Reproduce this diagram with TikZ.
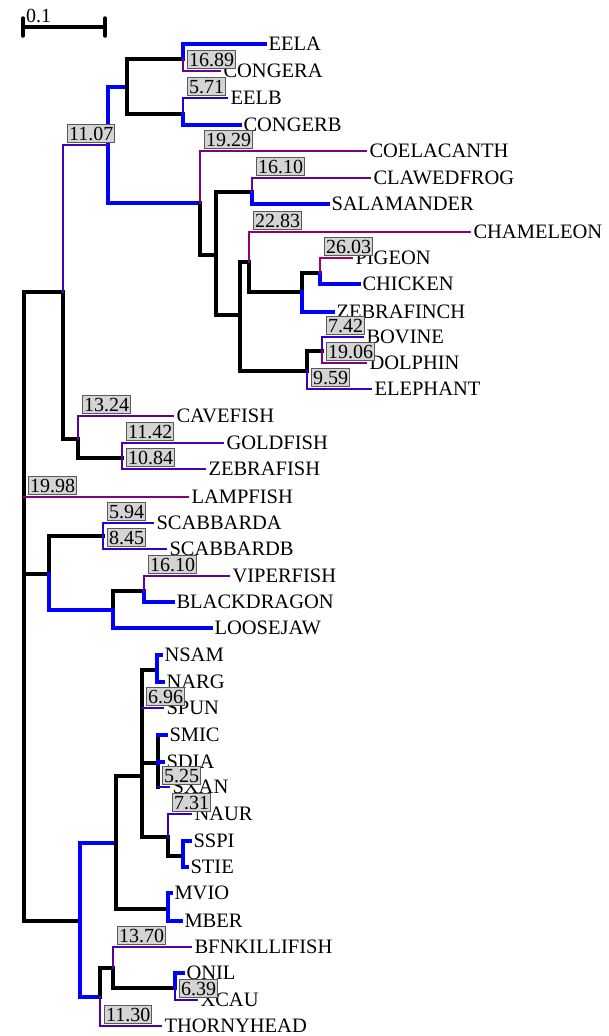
\documentclass[tikz,border=0pt]{standalone}
\usepackage{fontspec}
\setmainfont{Liberation Serif}
\tikzset{
  leaf/.style={anchor=west, inner xsep=3.5pt, inner ysep=0pt, outer sep=0pt, font=\fontsize{20.5}{24}\selectfont},
  bb/.style={draw=blue},
  lab/.style={line width=2.2pt, draw=red!#1!blue},
  val/.style={pos=0.5, anchor=south west, xshift=4.5pt, yshift=2.5pt, fill=black!17, draw=black!65,
    line width=0.8pt, inner xsep=1.5pt, inner ysep=2.2pt, outer sep=0pt, font=\fontsize{20}{20}\selectfont},
}
\begin{document}
\begin{tikzpicture}[x=1pt,y=-1pt]
  \useasboundingbox (0,0) rectangle (608,1036);
  % scale bar
  \coordinate (s0) at (23,27);
  \coordinate (s1) at (105,27);
  \draw[line width=3.5pt] (s0) -- (s1);
  \draw[line width=3.5pt, line cap=round] (s0) ++(0,-9) -- ++(0,18);
  \draw[line width=3.5pt, line cap=round] (s1) ++(0,-9) -- ++(0,18);
  \node[anchor=base west, inner sep=0pt, font=\fontsize{20}{24}\selectfont] (sl) at (26,23) {0.1};

  % inner nodes
  \coordinate (r) at (24,497);
  \coordinate (u) at (63,292);
  \coordinate (a) at (108,145);
  \coordinate (e) at (127,87);
  \coordinate (e1) at (183,59);
  \coordinate (e2) at (183,114);
  \coordinate (t) at (200,203);
  \coordinate (t2) at (216,255);
  \coordinate (t3) at (252,192);
  \coordinate (t4) at (240,315);
  \coordinate (t5) at (249,262);
  \coordinate (t6) at (307,371);
  \coordinate (t7) at (302,292);
  \coordinate (t8) at (320,273);
  \coordinate (t9) at (322,351);
  \coordinate (c1) at (78,439);
  \coordinate (c2) at (122,458);
  \coordinate (m) at (49,574);
  \coordinate (m1) at (103,536);
  \coordinate (m2) at (113,610);
  \coordinate (m3) at (144,591);
  \coordinate (b) at (80,921);
  \coordinate (b1) at (116,843);
  \coordinate (b2) at (100,997);
  \coordinate (b3) at (113,968);
  \coordinate (b4) at (175,988);
  \coordinate (k) at (142,776);
  \coordinate (ks) at (142,708);
  \coordinate (k1) at (157,670);
  \coordinate (k2) at (158,763);
  \coordinate (k2t) at (158,735);
  \coordinate (k2b) at (158,787);
  \coordinate (k3) at (168,837);
  \coordinate (k4) at (168,909);
  \coordinate (k5) at (183,856);

  % leaves
  \begin{scope}[every node/.style={leaf}]
    \node (eela) at (265,44) {EELA};
    \node (congera) at (220,71) {CONGERA};
    \node (eelb) at (227,98) {EELB};
    \node (congerb) at (240,125) {CONGERB};
    \node (coel) at (366,151) {COELACANTH};
    \node (frog) at (370,178) {CLAWEDFROG};
    \node (sala) at (328,204) {SALAMANDER};
    \node (cham) at (470,232) {CHAMELEON};
    \node (pige) at (352,258) {PIGEON};
    \node (chic) at (359,284) {CHICKEN};
    \node (zfin) at (333,312) {ZEBRAFINCH};
    \node (bovi) at (363,337) {BOVINE};
    \node (dolp) at (366,363) {DOLPHIN};
    \node (elep) at (371,389) {ELEPHANT};
    \node (cave) at (173,416) {CAVEFISH};
    \node (gold) at (223,443) {GOLDFISH};
    \node (zfis) at (205,469) {ZEBRAFISH};
    \node (lamp) at (188,497) {LAMPFISH};
    \node (scba) at (153,523) {SCABBARDA};
    \node (scbb) at (166,549) {SCABBARDB};
    \node (vipe) at (229,576) {VIPERFISH};
    \node (blkd) at (173,602) {BLACKDRAGON};
    \node (loos) at (211,628) {LOOSEJAW};
    \node (nsam) at (161,655) {NSAM};
    \node (narg) at (163,682) {NARG};
    \node (spun) at (163,708) {SPUN};
    \node (smic) at (166,735) {SMIC};
    \node (sdia) at (163,762) {SDIA};
    \node (sxan) at (169,787) {SXAN};
    \node (naur) at (191,814) {NAUR};
    \node (sspi) at (190,841) {SSPI};
    \node (stie) at (187,867) {STIE};
    \node (mvio) at (171,893) {MVIO};
    \node (mber) at (181,921) {MBER};
    \node (bfnk) at (191,947) {BFNKILLIFISH};
    \node (onil) at (183,973) {ONIL};
    \node (xcau) at (197,1000) {XCAU};
    \node (thor) at (161,1026) {THORNYHEAD};
  \end{scope}

  % branches
  \begin{scope}[every edge/.style={draw=black, line width=3.5pt, line cap=rect,
      to path={|- (\tikztotarget) \tikztonodes}}]
    \path (r) edge (u);
    \path (r) edge (m);
    \path (r) edge (b);
    \path (u) edge (c1);
    \path (a) edge[bb] (e);
    \path (a) edge[bb] (t);
    \path (e) edge (e1);
    \path (e) edge (e2);
    \path (e1) edge[bb] (eela.west);
    \path (e2) edge[bb] (congerb.west);
    \path (t) edge (t2);
    \path (t2) edge (t3);
    \path (t2) edge (t4);
    \path (t3) edge[bb] (sala.west);
    \path (t4) edge (t5);
    \path (t4) edge (t6);
    \path (t5) edge (t7);
    \path (t7) edge (t8);
    \path (t7) edge[bb] (zfin.west);
    \path (t8) edge[bb] (chic.west);
    \path (t6) edge (t9);
    \path (c1) edge (c2);
    \path (m) edge (m1);
    \path (m) edge[bb] (m2);
    \path (m2) edge (m3);
    \path (m2) edge[bb] (loos.west);
    \path (m3) edge[bb] (blkd.west);
    \path (b) edge[bb] (b1);
    \path (b) edge[bb] (b2);
    \path (b1) edge (k);
    \path (b1) edge (k4);
    \path (k) edge (k1);
    \path (k) edge (k2);
    \path (k) edge (k3);
    \path (k) edge (ks);
    \path (k1) edge[bb] (nsam.west);
    \path (k1) edge[bb] (narg.west);
    \path (k2t) edge (k2b);
    \path (k2t) edge[bb] (smic.west);
    \path (k2) edge[bb] (sdia.west);
    \path (k3) edge (k5);
    \path (k5) edge[bb] (sspi.west);
    \path (k5) edge[bb] (stie.west);
    \path (k4) edge[bb] (mvio.west);
    \path (k4) edge[bb] (mber.west);
    \path (b2) edge (b3);
    \path (b3) edge (b4);
    \path (b4) edge[bb] (onil.west);
    % labelled branches
    \path (u) edge[lab=29] node[val] {11.07} (a);
    \path (e1) edge[lab=44] node[val] {16.89} (congera.west);
    \path (e2) edge[lab=15] node[val] {5.71} (eelb.west);
    \path (t) edge[lab=50] node[val] {19.29} (coel.west);
    \path (t3) edge[lab=42] node[val] {16.10} (frog.west);
    \path (t5) edge[lab=59] node[val] {22.83} (cham.west);
    \path (t8) edge[lab=68] node[val] {26.03} (pige.west);
    \path (t9) edge[lab=19] node[val] {7.42} (bovi.west);
    \path (t9) edge[lab=50] node[val] {19.06} (dolp.west);
    \path (t6) edge[lab=25] node[val] {9.59} (elep.west);
    \path (c1) edge[lab=34] node[val] {13.24} (cave.west);
    \path (c2) edge[lab=30] node[val] {11.42} (gold.west);
    \path (c2) edge[lab=28] node[val] {10.84} (zfis.west);
    \path (r) edge[lab=52] node[val] {19.98} (lamp.west);
    \path (m1) edge[lab=15] node[val] {5.94} (scba.west);
    \path (m1) edge[lab=22] node[val] {8.45} (scbb.west);
    \path (m3) edge[lab=42] node[val] {16.10} (vipe.west);
    \path (ks) edge[lab=18] node[val] {6.96} (spun.west);
    \path (k2b) edge[lab=14] node[val] {5.25} (sxan.west);
    \path (k3) edge[lab=19] node[val] {7.31} (naur.west);
    \path (b3) edge[lab=36] node[val] {13.70} (bfnk.west);
    \path (b4) edge[lab=17] node[val] {6.39} (xcau.west);
    \path (b2) edge[lab=29] node[val] {11.30} (thor.west);
  \end{scope}
\end{tikzpicture}
\end{document}
